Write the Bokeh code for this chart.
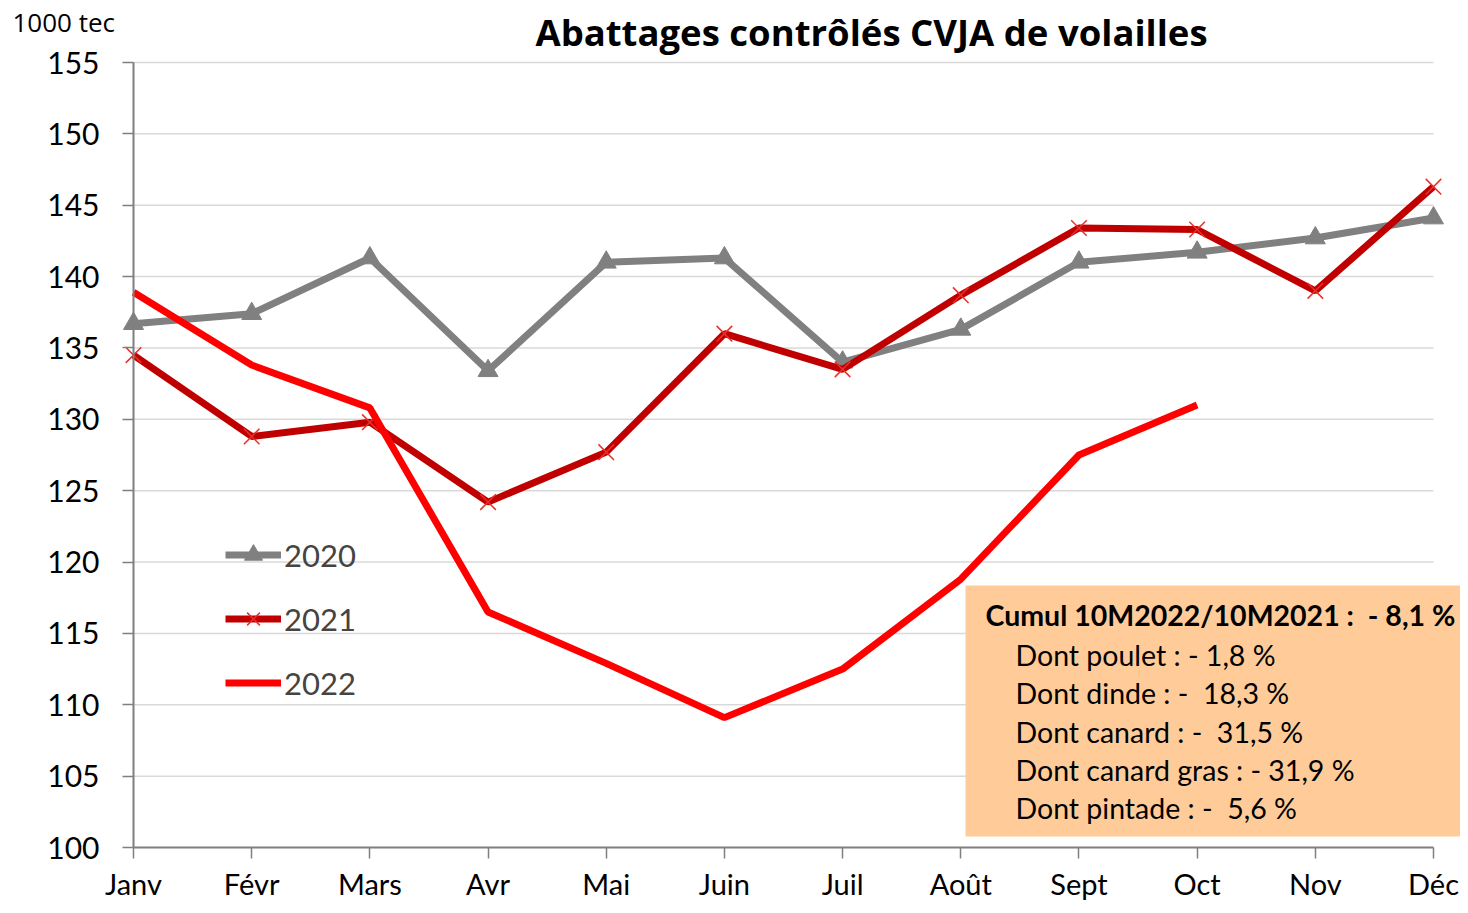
from bokeh.plotting import figure
from bokeh.models import Range1d, FixedTicker, Legend, LegendItem, Label, BoxAnnotation, LinearAxis
from bokeh.embed import file_html
from bokeh.resources import INLINE

months = ["Janv", "Févr", "Mars", "Avr", "Mai", "Juin", "Juil", "Août", "Sept", "Oct", "Nov", "Déc"]
y2020 = [136.7, 137.4, 141.3, 133.4, 141.0, 141.3, 134.0, 136.3, 141.0, 141.7, 142.7, 144.1]
y2021 = [134.5, 128.8, 129.8, 124.2, 127.7, 136.0, 133.5, 138.7, 143.4, 143.3, 139.0, 146.3]
y2022 = [138.9, 133.8, 130.8, 116.5, 112.9, 109.1, 112.5, 118.8, 127.5, 131.0]
yticks = [100, 105, 110, 115, 120, 125, 130, 135, 140, 145, 150, 155]
title_text = "Abattages contrôlés CVJA de volailles"
unit_text = "1000 tec"
box_head = "Cumul 10M2022/10M2021 :\u00a0\u00a0- 8,1 %"
box_lines = ["Dont poulet : - 1,8 %", "Dont dinde : -\u00a0\u00a018,3 %", "Dont canard : -\u00a0\u00a031,5 %",
             "Dont canard gras : - 31,9 %", "Dont pintade : -\u00a0\u00a05,6 %"]

FONT = "Lato"
TFONT = "Open Sans"
W, H = 1460, 905
# frame covers the whole canvas; pixel geometry
X0PX, DXPX = 133.0, 1300.0 / 11      # x=0 position and px per month
Y100PX, DYPX = 847.0, 785.0 / 55     # y=100 position and px per unit

def dx(px):
    return (px - X0PX) / DXPX

def dy(py):
    return 100 + (Y100PX - py) / DYPX

p = figure(width=W, height=H, output_backend="svg", toolbar_location=None,
           x_range=Range1d(dx(0), dx(W)), y_range=Range1d(dy(H), dy(0)),
           x_axis_location=None, y_axis_location=None,
           min_border_left=0, min_border_right=0, min_border_top=0, min_border_bottom=0)
p.outline_line_color = None
p.background_fill_color = "white"
p.border_fill_color = "white"

xs = list(range(12))

p.xgrid.grid_line_color = None
p.ygrid.grid_line_color = None

yaxis = LinearAxis(fixed_location=0, bounds=(100, 155), ticker=FixedTicker(ticks=yticks))
xaxis = LinearAxis(fixed_location=100, bounds=(0, 11), ticker=FixedTicker(ticks=xs),
                   major_label_overrides={i: m for i, m in enumerate(months)})
p.add_layout(yaxis, "left")
p.add_layout(xaxis, "below")

for ax in (xaxis, yaxis):
    ax.axis_line_color = "#7F7F7F"
    ax.axis_line_width = 2
    ax.major_tick_line_color = "#7F7F7F"
    ax.major_tick_line_width = 1.5
    ax.major_tick_out = 11
    ax.major_tick_in = 0
    ax.minor_tick_line_color = None
    ax.major_label_text_font = FONT
    ax.major_label_text_font_size = "30px"
    ax.major_label_text_color = "black"
yaxis.major_label_standoff = 23
xaxis.major_label_standoff = 7
xaxis.major_label_text_font_size = "29px"

# horizontal grid lines between Janv and Déc
p.segment(x0=0, x1=11, y0=yticks[1:], y1=yticks[1:], line_color="#D9D9D9", line_width=1.5,
          level="underlay")

# annotation box
box = BoxAnnotation(left=dx(965), right=dx(W), top=dy(585), bottom=dy(836),
                    fill_color="#FFCC99", fill_alpha=1.0, line_color=None, level="underlay")
p.add_layout(box)

# series
l20 = p.line(xs, y2020, line_color="#808080", line_width=7)
m20 = p.scatter(xs, y2020, marker="triangle", size=20, fill_color="#808080", line_color="#808080")
l21 = p.line(xs, y2021, line_color="#C00000", line_width=7)
m21 = p.scatter(xs, y2021, marker="x", size=22, line_color="#E8302A", line_width=1.5)
l22 = p.line(xs[:len(y2022)], y2022, line_color="#FF0000", line_width=7)

legend = Legend(items=[LegendItem(label="2020", renderers=[l20, m20]),
                       LegendItem(label="2021", renderers=[l21, m21]),
                       LegendItem(label="2022", renderers=[l22])],
                location=(225, 200), orientation="vertical",
                label_text_font=FONT, label_text_font_size="31px",
                glyph_width=56, glyph_height=45, label_height=30, spacing=19,
                label_standoff=3, padding=0, margin=0,
                border_line_color=None, background_fill_alpha=0)
p.add_layout(legend)

# texts
p.add_layout(Label(x=dx(871), y=dy(31), text=title_text, text_font=TFONT,
                   text_font_style="bold", text_font_size="36.5px", text_align="center",
                   text_baseline="middle", text_color="black"))
p.add_layout(Label(x=dx(12), y=dy(21), text=unit_text, text_font=TFONT,
                   text_font_size="26px", text_align="left", text_baseline="middle",
                   text_color="black"))

p.add_layout(Label(x=dx(985), y=dy(614), text=box_head,
                   text_font=FONT, text_font_style="bold", text_font_size="28.5px",
                   text_baseline="middle", text_color="black"))
ys_lines = [654, 692, 731, 769, 807]
for t, yy in zip(box_lines, ys_lines):
    p.add_layout(Label(x=dx(1015), y=dy(yy), text=t,
                       text_font=FONT, text_font_size="28.5px",
                       text_baseline="middle", text_color="black"))

open("out.html", "w").write(file_html(p, INLINE))
